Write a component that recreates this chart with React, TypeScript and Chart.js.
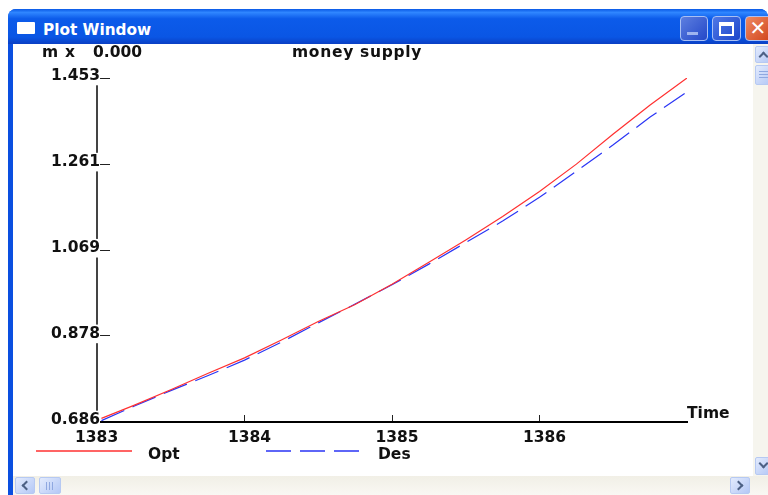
import React, { useEffect, useRef } from "react";
import { Chart, registerables } from "chart.js";

Chart.register(...registerables);

const years = [1383.03, 1383.25, 1383.5, 1383.75, 1384, 1384.25, 1384.5, 1384.75, 1385, 1385.25, 1385.5, 1385.75, 1386, 1386.25, 1386.5, 1386.75, 1387];
const optValues = [0.694, 0.723, 0.758, 0.794, 0.829, 0.869, 0.91, 0.948, 0.993, 1.042, 1.092, 1.144, 1.2, 1.261, 1.328, 1.393, 1.453];
const desValues = [0.689, 0.721, 0.756, 0.789, 0.824, 0.864, 0.907, 0.949, 0.992, 1.038, 1.086, 1.134, 1.187, 1.245, 1.304, 1.366, 1.422];
const xTicks = [1383, 1384, 1385, 1386];
const yTicks = [0.686, 0.878, 1.069, 1.261, 1.453];
const titleText = "money supply";
const multiplierLabel = "m x";
const multiplierValue = "0.000";
const xAxisName = "Time";
const seriesNames = ["Opt", "Des"];

const FONT = "bold 15.5px 'DejaVu Sans'";
const INK = "#111111";
const RED = "#ff3030";
const BLUE = "#2a35f5";
const DASH = [25, 9];

const textPlugin = {
  id: "plotText",
  afterDraw(chart: any) {
    const { ctx } = chart;
    ctx.save();
    ctx.lineWidth = 1.6;
    ctx.strokeStyle = RED;
    ctx.setLineDash([]);
    ctx.beginPath();
    ctx.moveTo(36, 451);
    ctx.lineTo(132, 451);
    ctx.stroke();
    ctx.strokeStyle = BLUE;
    ctx.setLineDash(DASH);
    ctx.beginPath();
    ctx.moveTo(266, 451);
    ctx.lineTo(359, 451);
    ctx.stroke();
    ctx.restore();

    ctx.save();
    ctx.font = FONT;
    ctx.fillStyle = INK;
    ctx.textBaseline = "middle";
    ctx.textAlign = "left";
    ctx.fillText(multiplierValue, 93, 53);
    ctx.fillText(xAxisName, 687, 414);
    ctx.fillText(seriesNames[0], 148, 455);
    ctx.fillText(seriesNames[1], 378, 455);
    ctx.letterSpacing = "0.7px";
    ctx.fillText(multiplierLabel, 42, 53);
    ctx.fillText(titleText, 292, 53);
    ctx.restore();
  },
};

const abs = (s: any): React.CSSProperties => ({ position: "absolute", boxSizing: "border-box", ...s });

function TitleButton({ left, width, bg, children }: any) {
  return (
    <div style={abs({ left, top: 16, width, height: 25, borderRadius: 4, border: "1px solid #a9c0f4", background: bg })}>{children}</div>
  );
}

function ScrollButton({ left, top, width, height, children }: any) {
  return (
    <div style={abs({ left, top, width, height, borderRadius: 2, border: "1px solid #b6c9f2", background: "linear-gradient(135deg,#e3ebfd,#b4c8f6)", overflow: "hidden" })}>{children}</div>
  );
}

function Chevron({ left, top, angle }: any) {
  return (
    <div style={abs({ left, top, width: 7, height: 7, borderLeft: "2px solid #4d6185", borderTop: "2px solid #4d6185", transform: `rotate(${angle}deg)` })} />
  );
}

export default function App() {
  const ref = useRef<HTMLCanvasElement>(null);
  useEffect(() => {
    const chart = new Chart(ref.current!, {
      type: "line",
      data: {
        datasets: [
          {
            label: seriesNames[0],
            data: years.map((x, i) => ({ x, y: optValues[i] })),
            borderColor: RED,
            borderWidth: 1.2,
            pointRadius: 0,
            tension: 0,
          },
          {
            label: seriesNames[1],
            data: years.map((x, i) => ({ x, y: desValues[i] })),
            borderColor: BLUE,
            borderWidth: 1.2,
            borderDash: DASH,
            pointRadius: 0,
            tension: 0,
          },
        ],
      },
      options: {
        responsive: false,
        animation: false,
        devicePixelRatio: 1,
        layout: { padding: { top: 78, right: 81, left: 0, bottom: 0 } },
        plugins: { legend: { display: false }, title: { display: false }, tooltip: { enabled: false } },
        scales: {
          x: {
            type: "linear",
            min: 1383,
            max: 1387,
            afterFit(s: any) { s.height = 73; },
            afterBuildTicks(s: any) { s.ticks = xTicks.map((value) => ({ value })); },
            grid: {
              drawOnChartArea: false,
              tickLength: -7,
              tickWidth: 1,
              tickColor: (c: any) => (c.tick && c.tick.value === xTicks[0] ? "rgba(0,0,0,0)" : "#222222"),
            },
            border: { display: true, color: "#000000", width: 2 },
            ticks: {
              autoSkip: false,
              maxRotation: 0,
              padding: 14,
              labelOffset: 5,
              color: INK,
              font: { family: "'DejaVu Sans'", weight: "bold", size: 15.5 },
              callback: (v: any) => (v === xTicks[0] ? `${v}  ` : `${v}`),
            },
          },
          y: {
            type: "linear",
            min: yTicks[0],
            max: yTicks[yTicks.length - 1],
            afterFit(s: any) { s.width = 97; },
            afterBuildTicks(s: any) { s.ticks = yTicks.map((value) => ({ value })); },
            grid: { drawOnChartArea: false, tickLength: -13, tickWidth: 1, tickColor: "#222222" },
            border: { display: true, color: "#444444", width: 2 },
            ticks: {
              autoSkip: false,
              mirror: true,
              padding: -46,
              labelOffset: -2,
              z: 1,
              color: INK,
              showLabelBackdrop: true,
              backdropColor: "#ffffff",
              backdropPadding: 0,
              font: { family: "'DejaVu Sans'", weight: "bold", size: 15.5 },
              callback: (v: any) => Number(v).toFixed(3),
            },
          },
        },
      } as any,
      plugins: [textPlugin],
    });
    return () => chart.destroy();
  }, []);

  const thumbV = "repeating-linear-gradient(#8fa8e0 0 1px,transparent 1px 3px)";
  const thumbH = "repeating-linear-gradient(90deg,#8fa8e0 0 1px,transparent 1px 3px)";

  return (
    <div style={{ position: "fixed", left: 0, top: 0, width: 768, height: 495, overflow: "hidden", background: "#ffffff" }}>
      {/* window frame */}
      <div style={abs({ left: 8, top: 9, width: 760, height: 486, background: "#0a4fe0", borderRadius: "8px 8px 0 0" })} />
      <div style={abs({ left: 8, top: 9, width: 760, height: 35, borderRadius: "8px 8px 0 0", background: "linear-gradient(#0a5ae6 0%,#2f86ff 10%,#0c5bea 28%,#0a56e4 80%,#0a3fc4 100%)" })} />
      <div style={abs({ left: 17, top: 22, width: 18, height: 12, background: "#ffffff", borderRadius: 1 })} />
      <div style={abs({ left: 43, top: 20, color: "#ffffff", font: "bold 15.3px 'DejaVu Sans'", lineHeight: "20px", whiteSpace: "nowrap" })}>Plot Window</div>
      <TitleButton left={680} width={28} bg="linear-gradient(135deg,#5d7fe0,#2448c8)">
        <div style={abs({ left: 6, top: 15, width: 11, height: 3, background: "#9fb4ef" })} />
      </TitleButton>
      <TitleButton left={712} width={29} bg="linear-gradient(135deg,#4f78e6,#1c46cb)">
        <div style={abs({ left: 6, top: 5, width: 15, height: 14, border: "2px solid #ffffff", borderTopWidth: 4 })} />
      </TitleButton>
      <TitleButton left={745} width={30} bg="linear-gradient(135deg,#ee8a62,#cf3f16)">
        <div style={abs({ left: 2, top: 0, width: 20, height: 23, color: "#ffffff", font: "bold 20px 'DejaVu Sans'", lineHeight: "23px", textAlign: "center" })}>✕</div>
      </TitleButton>
      {/* client area */}
      <div style={abs({ left: 13, top: 44, width: 755, height: 451, background: "#ffffff" })} />
      {/* scrollbars */}
      <div style={abs({ left: 753, top: 44, width: 15, height: 432, background: "#f6f5ee" })} />
      <div style={abs({ left: 13, top: 476, width: 755, height: 19, background: "linear-gradient(#f1efe6,#f9f8f3)" })} />
      <ScrollButton left={755} top={46} width={16} height={17}><Chevron left={4} top={6} angle={45} /></ScrollButton>
      <ScrollButton left={755} top={65} width={16} height={20}><div style={abs({ left: 3, top: 5, width: 10, height: 9, backgroundImage: thumbV })} /></ScrollButton>
      <ScrollButton left={755} top={457} width={16} height={18}><Chevron left={4} top={2} angle={225} /></ScrollButton>
      <ScrollButton left={15} top={477} width={20} height={17}><Chevron left={7} top={4} angle={-45} /></ScrollButton>
      <ScrollButton left={39} top={477} width={22} height={17}><div style={abs({ left: 6, top: 4, width: 9, height: 8, backgroundImage: thumbH })} /></ScrollButton>
      <ScrollButton left={730} top={477} width={20} height={17}><Chevron left={4} top={4} angle={135} /></ScrollButton>
      <canvas ref={ref} width={768} height={495} style={{ position: "absolute", left: 0, top: 0, width: 768, height: 495, display: "block" }} />
    </div>
  );
}
